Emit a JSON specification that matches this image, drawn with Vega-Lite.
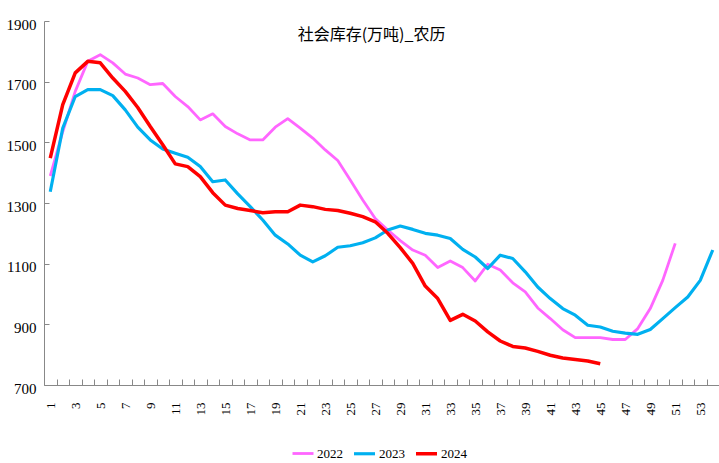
{
"$schema": "https://vega.github.io/schema/vega-lite/v6.json",
"width": 675,
"height": 364,
"autosize": {"type": "none"},
"padding": {"left": 44, "top": 21, "right": 0, "bottom": 78},
"background": "white",
"title": {"text": "社会库存(万吨)_农历", "font": "Noto Sans CJK SC", "fontSize": 16, "fontWeight": "normal", "color": "#000000", "anchor": "middle", "offset": -26, "dx": -10},
"config": {"view": {"stroke": null}},
"datasets": {
"series": [
{"week":1,"year":"2022","value":1389},{"week":2,"year":"2022","value":1535},{"week":3,"year":"2022","value":1668},{"week":4,"year":"2022","value":1767},{"week":5,"year":"2022","value":1789},{"week":6,"year":"2022","value":1762},{"week":7,"year":"2022","value":1725},{"week":8,"year":"2022","value":1712},{"week":9,"year":"2022","value":1690},{"week":10,"year":"2022","value":1694},{"week":11,"year":"2022","value":1651},{"week":12,"year":"2022","value":1618},{"week":13,"year":"2022","value":1574},{"week":14,"year":"2022","value":1594},{"week":15,"year":"2022","value":1552},{"week":16,"year":"2022","value":1528},{"week":17,"year":"2022","value":1508},{"week":18,"year":"2022","value":1508},{"week":19,"year":"2022","value":1550},{"week":20,"year":"2022","value":1578},{"week":21,"year":"2022","value":1547},{"week":22,"year":"2022","value":1514},{"week":23,"year":"2022","value":1475},{"week":24,"year":"2022","value":1440},{"week":25,"year":"2022","value":1376},{"week":26,"year":"2022","value":1310},{"week":27,"year":"2022","value":1249},{"week":28,"year":"2022","value":1211},{"week":29,"year":"2022","value":1176},{"week":30,"year":"2022","value":1145},{"week":31,"year":"2022","value":1128},{"week":32,"year":"2022","value":1087},{"week":33,"year":"2022","value":1109},{"week":34,"year":"2022","value":1087},{"week":35,"year":"2022","value":1043},{"week":36,"year":"2022","value":1098},{"week":37,"year":"2022","value":1079},{"week":38,"year":"2022","value":1037},{"week":39,"year":"2022","value":1007},{"week":40,"year":"2022","value":954},{"week":41,"year":"2022","value":919},{"week":42,"year":"2022","value":882},{"week":43,"year":"2022","value":856},{"week":44,"year":"2022","value":856},{"week":45,"year":"2022","value":856},{"week":46,"year":"2022","value":850},{"week":47,"year":"2022","value":850},{"week":48,"year":"2022","value":886},{"week":49,"year":"2022","value":952},{"week":50,"year":"2022","value":1045},{"week":51,"year":"2022","value":1167},
{"week":1,"year":"2023","value":1337},{"week":2,"year":"2023","value":1547},{"week":3,"year":"2023","value":1651},{"week":4,"year":"2023","value":1674},{"week":5,"year":"2023","value":1674},{"week":6,"year":"2023","value":1654},{"week":7,"year":"2023","value":1607},{"week":8,"year":"2023","value":1550},{"week":9,"year":"2023","value":1508},{"week":10,"year":"2023","value":1478},{"week":11,"year":"2023","value":1464},{"week":12,"year":"2023","value":1451},{"week":13,"year":"2023","value":1420},{"week":14,"year":"2023","value":1370},{"week":15,"year":"2023","value":1376},{"week":16,"year":"2023","value":1330},{"week":17,"year":"2023","value":1288},{"week":18,"year":"2023","value":1244},{"week":19,"year":"2023","value":1194},{"week":20,"year":"2023","value":1165},{"week":21,"year":"2023","value":1128},{"week":22,"year":"2023","value":1106},{"week":23,"year":"2023","value":1126},{"week":24,"year":"2023","value":1154},{"week":25,"year":"2023","value":1159},{"week":26,"year":"2023","value":1169},{"week":27,"year":"2023","value":1185},{"week":28,"year":"2023","value":1211},{"week":29,"year":"2023","value":1224},{"week":30,"year":"2023","value":1213},{"week":31,"year":"2023","value":1200},{"week":32,"year":"2023","value":1194},{"week":33,"year":"2023","value":1183},{"week":34,"year":"2023","value":1147},{"week":35,"year":"2023","value":1122},{"week":36,"year":"2023","value":1084},{"week":37,"year":"2023","value":1128},{"week":38,"year":"2023","value":1117},{"week":39,"year":"2023","value":1073},{"week":40,"year":"2023","value":1023},{"week":41,"year":"2023","value":985},{"week":42,"year":"2023","value":952},{"week":43,"year":"2023","value":930},{"week":44,"year":"2023","value":897},{"week":45,"year":"2023","value":891},{"week":46,"year":"2023","value":877},{"week":47,"year":"2023","value":871},{"week":48,"year":"2023","value":867},{"week":49,"year":"2023","value":883},{"week":50,"year":"2023","value":919},{"week":51,"year":"2023","value":955},{"week":52,"year":"2023","value":990},{"week":53,"year":"2023","value":1045},{"week":54,"year":"2023","value":1145},
{"week":1,"year":"2024","value":1448},{"week":2,"year":"2024","value":1624},{"week":3,"year":"2024","value":1729},{"week":4,"year":"2024","value":1767},{"week":5,"year":"2024","value":1762},{"week":6,"year":"2024","value":1712},{"week":7,"year":"2024","value":1668},{"week":8,"year":"2024","value":1615},{"week":9,"year":"2024","value":1552},{"week":10,"year":"2024","value":1492},{"week":11,"year":"2024","value":1429},{"week":12,"year":"2024","value":1420},{"week":13,"year":"2024","value":1387},{"week":14,"year":"2024","value":1334},{"week":15,"year":"2024","value":1293},{"week":16,"year":"2024","value":1282},{"week":17,"year":"2024","value":1275},{"week":18,"year":"2024","value":1268},{"week":19,"year":"2024","value":1271},{"week":20,"year":"2024","value":1271},{"week":21,"year":"2024","value":1293},{"week":22,"year":"2024","value":1288},{"week":23,"year":"2024","value":1279},{"week":24,"year":"2024","value":1275},{"week":25,"year":"2024","value":1266},{"week":26,"year":"2024","value":1255},{"week":27,"year":"2024","value":1238},{"week":28,"year":"2024","value":1200},{"week":29,"year":"2024","value":1153},{"week":30,"year":"2024","value":1101},{"week":31,"year":"2024","value":1026},{"week":32,"year":"2024","value":985},{"week":33,"year":"2024","value":913},{"week":34,"year":"2024","value":933},{"week":35,"year":"2024","value":911},{"week":36,"year":"2024","value":875},{"week":37,"year":"2024","value":845},{"week":38,"year":"2024","value":827},{"week":39,"year":"2024","value":822},{"week":40,"year":"2024","value":811},{"week":41,"year":"2024","value":798},{"week":42,"year":"2024","value":789},{"week":43,"year":"2024","value":784},{"week":44,"year":"2024","value":779},{"week":45,"year":"2024","value":770}
]
},
"data": {"name": "series"},
"mark": {"type": "line", "strokeJoin": "round"},
"encoding": {
"x": {"field": "week", "type": "ordinal", "bandPosition": 0.5,
 "scale": {"type": "band", "paddingInner": 0, "paddingOuter": 0, "domain": [1,2,3,4,5,6,7,8,9,10,11,12,13,14,15,16,17,18,19,20,21,22,23,24,25,26,27,28,29,30,31,32,33,34,35,36,37,38,39,40,41,42,43,44,45,46,47,48,49,50,51,52,53,54]},
 "axis": {"title": null, "tickBand": "extent", "labelAngle": 270, "labelExpr": "datum.value % 2 == 1 ? datum.label : ''", "labelFont": "Liberation Serif", "labelFontSize": 13, "labelColor": "#000000", "tickSize": -6, "labelPadding": 23, "domainColor": "#888888", "tickColor": "#888888", "grid": false, "labelOverlap": false}},
"y": {"field": "value", "type": "quantitative",
 "scale": {"domain": [700, 1900], "nice": false, "zero": false},
 "axis": {"title": null, "format": "d", "values": [700,900,1100,1300,1500,1700,1900], "labelFont": "Liberation Serif", "labelFontSize": 15, "labelColor": "#000000", "tickSize": -5, "labelPadding": 13, "labelOffset": 3, "domainColor": "#888888", "tickColor": "#888888", "grid": false}},
"color": {"field": "year", "type": "nominal",
 "scale": {"domain": ["2022","2023","2024"], "range": ["#FF66FF","#00B0F0","#FF0000"]},
 "legend": {"title": null, "orient": "none", "legendX": 247, "legendY": 420, "direction": "horizontal", "symbolType": "stroke", "symbolSize": 441, "symbolStrokeWidth": 4, "labelFont": "Liberation Serif", "labelFontSize": 13, "labelColor": "#000000", "columnPadding": 4, "labelOffset": 2}},
"strokeWidth": {"field": "year", "type": "ordinal", "scale": {"domain": ["2022","2023","2024"], "range": [2.8, 3.5, 4.8]}, "legend": null}
}
}
